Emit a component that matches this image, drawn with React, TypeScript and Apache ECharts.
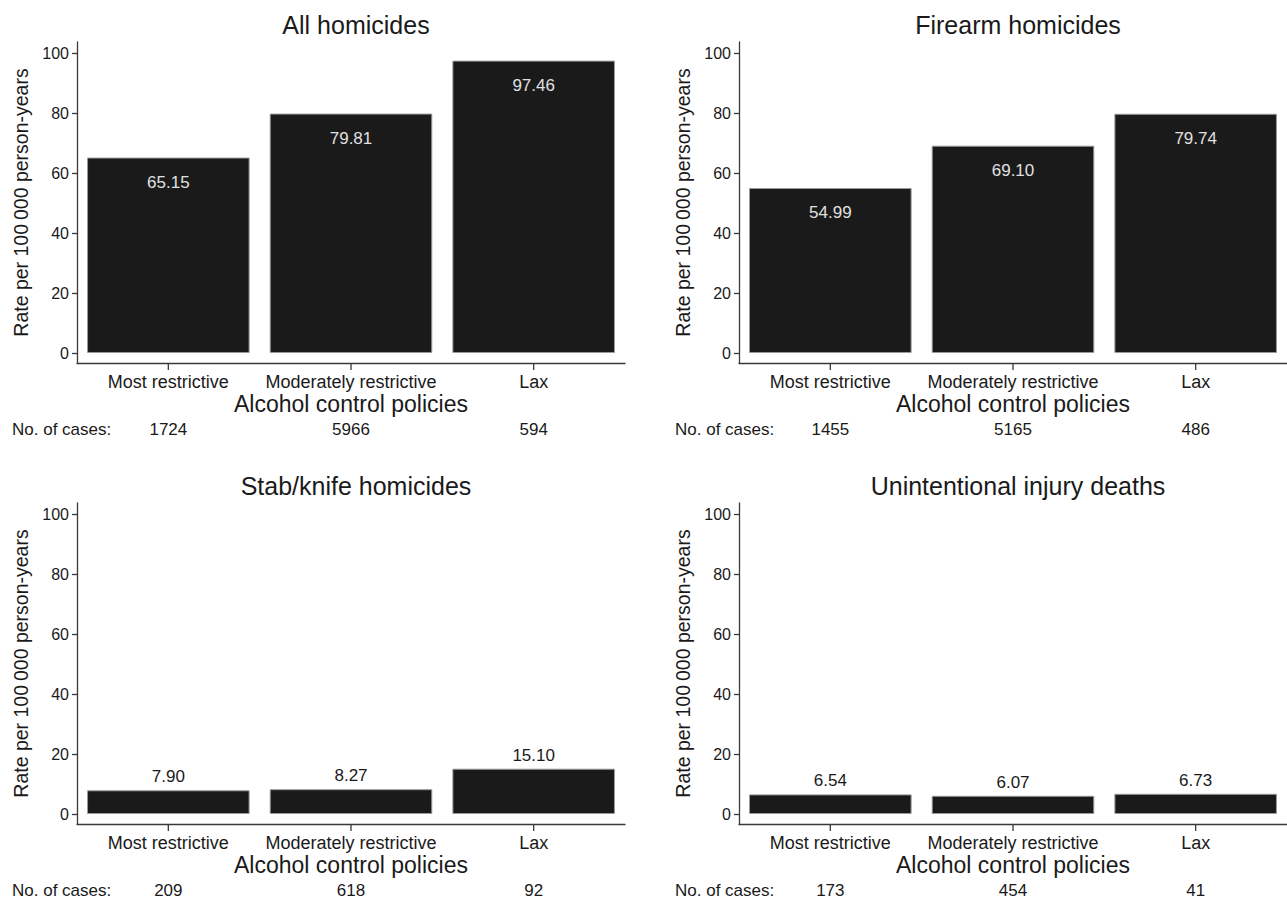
import React, { useEffect, useRef } from "react";
import * as echarts from "echarts";

const categories = ["Most restrictive", "Moderately restrictive", "Lax"];
const panelTitles = ["All homicides", "Firearm homicides", "Stab/knife homicides", "Unintentional injury deaths"];
const allHomicides = [65.15, 79.81, 97.46];
const firearmHomicides = [54.99, 69.1, 79.74];
const stabHomicides = [7.9, 8.27, 15.1];
const unintentionalDeaths = [6.54, 6.07, 6.73];
const allCases = ["1724", "5966", "594"];
const firearmCases = ["1455", "5165", "486"];
const stabCases = ["209", "618", "92"];
const unintentionalCases = ["173", "454", "41"];
const yTicks = [0, 20, 40, 60, 80, 100];
const yAxisTitle = "Rate per 100\u2009000 person-years";
const xAxisTitle = "Alcohol control policies";
const casesLabel = "No. of cases:";

const FONT = '"Liberation Sans", Arial, Helvetica, sans-serif';
const TEXT = "#1a1a1a";
const AXIS = "#3a3a3a";
const Y_MIN = -10 / 3;
const Y_MAX = 311 / 3;

const panels = [
  { title: panelTitles[0], values: allHomicides, cases: allCases, left: 77, top: 42, inside: true },
  { title: panelTitles[1], values: firearmHomicides, cases: firearmCases, left: 739, top: 42, inside: true },
  { title: panelTitles[2], values: stabHomicides, cases: stabCases, left: 77, top: 503, inside: false },
  { title: panelTitles[3], values: unintentionalDeaths, cases: unintentionalCases, left: 739, top: 503, inside: false },
];

const GRID_W = 548;
const GRID_H = 321;

export default function App() {
  const ref = useRef<HTMLDivElement>(null);
  useEffect(() => {
    if (!ref.current) return;
    const chart = echarts.init(ref.current, null, { renderer: "svg" });
    const grid: any[] = [];
    const xAxis: any[] = [];
    const yAxis: any[] = [];
    const series: any[] = [];
    const title: any[] = [];
    const graphic: any[] = [];
    panels.forEach((p, i) => {
      grid.push({ left: p.left, top: p.top, width: GRID_W, height: GRID_H, containLabel: false });
      title.push({
        text: p.title,
        left: p.left + GRID_W / 2,
        top: p.top - 35,
        textAlign: "center",
        textStyle: { fontFamily: FONT, fontSize: 25, fontWeight: "normal", color: TEXT },
      });
      xAxis.push({
        gridIndex: i,
        type: "category",
        data: categories,
        position: "bottom",
        axisLine: { show: true, onZero: false, lineStyle: { color: AXIS, width: 1.3 } },
        axisTick: { show: false },
        axisLabel: { interval: 0, fontFamily: FONT, fontSize: 18, color: TEXT, margin: 10 },
        name: xAxisTitle,
        nameLocation: "middle",
        nameGap: 29,
        nameTextStyle: { fontFamily: FONT, fontSize: 23, color: TEXT },
      });
      xAxis.push({
        gridIndex: i,
        type: "category",
        data: p.cases,
        position: "bottom",
        axisLine: { show: false, onZero: false },
        axisTick: { show: false },
        axisLabel: { interval: 0, fontFamily: FONT, fontSize: 17, color: TEXT, margin: 58 },
      });
      yAxis.push({
        gridIndex: i,
        type: "value",
        min: Y_MIN,
        max: Y_MAX,
        splitLine: { show: false },
        axisLine: { show: true, onZero: false, lineStyle: { color: AXIS, width: 1.3 } },
        axisTick: { show: true, length: 5, customValues: yTicks, lineStyle: { color: AXIS, width: 1.3 } },
        axisLabel: {
          customValues: yTicks,
          fontFamily: FONT,
          fontSize: 16,
          color: TEXT,
          margin: 8,
          formatter: (v: number) => String(Math.round(v)),
        },
        name: yAxisTitle,
        nameLocation: "middle",
        nameGap: 46,
        nameTextStyle: { fontFamily: FONT, fontSize: 19.5, color: TEXT },
      });
      series.push({
        type: "bar",
        xAxisIndex: i * 2,
        yAxisIndex: i,
        data: p.values,
        barWidth: "89%",
        itemStyle: { color: "#1a1a1a", borderColor: "#9a9a9a", borderWidth: 1 },
        label: {
          show: true,
          position: p.inside ? "insideTop" : "top",
          distance: p.inside ? 16 : 5,
          color: p.inside ? "#e0e0e0" : TEXT,
          fontFamily: FONT,
          fontSize: 17,
          formatter: (d: any) => Number(d.value).toFixed(2),
        },
      });
      // tick marks below the x axis at category centres
      series.push({
        type: "custom",
        xAxisIndex: i * 2,
        yAxisIndex: i,
        clip: false,
        silent: true,
        data: categories.map((c) => [c, Y_MIN]),
        renderItem: (params: any, api: any) => {
          const pt = api.coord([api.value(0), Y_MIN]);
          return {
            type: "line",
            shape: { x1: pt[0], y1: pt[1], x2: pt[0], y2: pt[1] + 7 },
            style: { stroke: AXIS, lineWidth: 1.3 },
          };
        },
      });
      graphic.push({
        type: "text",
        left: p.left === 77 ? 12 : 675,
        top: p.top + GRID_H + 58,
        style: { text: casesLabel, font: `17px ${FONT}`, fill: TEXT },
      });
    });
    chart.setOption({
      animation: false,
      backgroundColor: "#ffffff",
      title,
      grid,
      xAxis,
      yAxis,
      series,
      graphic,
    });
    return () => chart.dispose();
  }, []);
  return (
    <div
      ref={ref}
      style={{ position: "fixed", left: 0, top: 0, width: 1287, height: 902, background: "#fff" }}
    />
  );
}
